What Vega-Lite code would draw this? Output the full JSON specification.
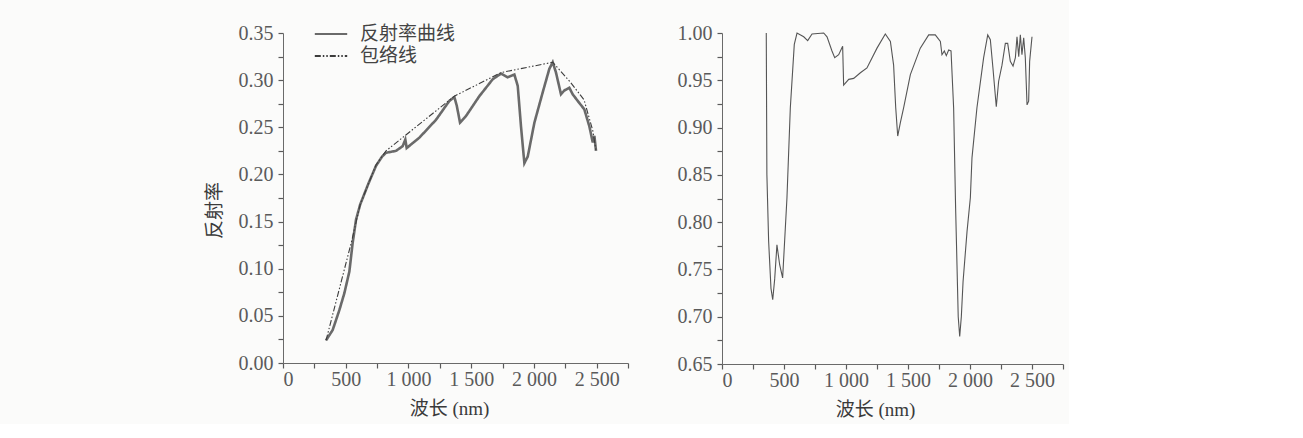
{
  "$schema": "https://vega.github.io/schema/vega-lite/v6.json",
  "background": "#fbfbfa",
  "padding": {"left": 205, "top": 23, "right": 5, "bottom": 5},
  "config": {
    "view": {"stroke": null},
    "font": "Liberation Serif, Noto Sans CJK SC",
    "axis": {
      "grid": false,
      "ticks": true,
      "domainColor": "#6a6a6a",
      "tickColor": "#5a5a5a",
      "tickSize": 5,
      "tickWidth": 1.2,
      "labelFont": "Liberation Serif",
      "labelFontSize": 20,
      "labelColor": "#5a5a5a",
      "titleFont": "Liberation Serif, Noto Sans CJK SC",
      "titleFontSize": 19,
      "titleColor": "#3a3a3a",
      "titleFontWeight": "normal"
    },
    "concat": {"spacing": 48}
  },
  "datasets": {
    "refl": [
      {"wl": 343, "r": 0.024, "s": "反射率曲线"},
      {"wl": 396, "r": 0.035, "s": "反射率曲线"},
      {"wl": 449, "r": 0.056, "s": "反射率曲线"},
      {"wl": 489, "r": 0.074, "s": "反射率曲线"},
      {"wl": 529, "r": 0.097, "s": "反射率曲线"},
      {"wl": 555, "r": 0.127, "s": "反射率曲线"},
      {"wl": 582, "r": 0.152, "s": "反射率曲线"},
      {"wl": 615, "r": 0.168, "s": "反射率曲线"},
      {"wl": 680, "r": 0.190, "s": "反射率曲线"},
      {"wl": 741, "r": 0.209, "s": "反射率曲线"},
      {"wl": 790, "r": 0.219, "s": "反射率曲线"},
      {"wl": 821, "r": 0.223, "s": "反射率曲线"},
      {"wl": 901, "r": 0.225, "s": "反射率曲线"},
      {"wl": 954, "r": 0.230, "s": "反射率曲线"},
      {"wl": 975, "r": 0.237, "s": "反射率曲线"},
      {"wl": 986, "r": 0.228, "s": "反射率曲线"},
      {"wl": 1087, "r": 0.239, "s": "反射率曲线"},
      {"wl": 1220, "r": 0.258, "s": "反射率曲线"},
      {"wl": 1326, "r": 0.278, "s": "反射率曲线"},
      {"wl": 1366, "r": 0.282, "s": "反射率曲线"},
      {"wl": 1385, "r": 0.273, "s": "反射率曲线"},
      {"wl": 1411, "r": 0.255, "s": "反射率曲线"},
      {"wl": 1459, "r": 0.262, "s": "反射率曲线"},
      {"wl": 1565, "r": 0.283, "s": "反射率曲线"},
      {"wl": 1672, "r": 0.301, "s": "反射率曲线"},
      {"wl": 1738, "r": 0.307, "s": "反射率曲线"},
      {"wl": 1764, "r": 0.305, "s": "反射率曲线"},
      {"wl": 1791, "r": 0.303, "s": "反射率曲线"},
      {"wl": 1844, "r": 0.306, "s": "反射率曲线"},
      {"wl": 1871, "r": 0.294, "s": "反射率曲线"},
      {"wl": 1897, "r": 0.251, "s": "反射率曲线"},
      {"wl": 1924, "r": 0.212, "s": "反射率曲线"},
      {"wl": 1951, "r": 0.219, "s": "反射率曲线"},
      {"wl": 2004, "r": 0.255, "s": "反射率曲线"},
      {"wl": 2070, "r": 0.287, "s": "反射率曲线"},
      {"wl": 2123, "r": 0.312, "s": "反射率曲线"},
      {"wl": 2150, "r": 0.319, "s": "反射率曲线"},
      {"wl": 2176, "r": 0.308, "s": "反射率曲线"},
      {"wl": 2216, "r": 0.285, "s": "反射率曲线"},
      {"wl": 2242, "r": 0.289, "s": "反射率曲线"},
      {"wl": 2282, "r": 0.292, "s": "反射率曲线"},
      {"wl": 2309, "r": 0.285, "s": "反射率曲线"},
      {"wl": 2349, "r": 0.278, "s": "反射率曲线"},
      {"wl": 2402, "r": 0.269, "s": "反射率曲线"},
      {"wl": 2442, "r": 0.251, "s": "反射率曲线"},
      {"wl": 2469, "r": 0.234, "s": "反射率曲线"},
      {"wl": 2482, "r": 0.241, "s": "反射率曲线"},
      {"wl": 2495, "r": 0.225, "s": "反射率曲线"}
    ],
    "env": [
      {"wl": 343, "r": 0.024, "s": "包络线"},
      {"wl": 545, "r": 0.128, "s": "包络线"},
      {"wl": 615, "r": 0.168, "s": "包络线"},
      {"wl": 741, "r": 0.210, "s": "包络线"},
      {"wl": 821, "r": 0.225, "s": "包络线"},
      {"wl": 1366, "r": 0.283, "s": "包络线"},
      {"wl": 1738, "r": 0.308, "s": "包络线"},
      {"wl": 2150, "r": 0.319, "s": "包络线"},
      {"wl": 2290, "r": 0.298, "s": "包络线"},
      {"wl": 2400, "r": 0.279, "s": "包络线"},
      {"wl": 2470, "r": 0.246, "s": "包络线"},
      {"wl": 2495, "r": 0.225, "s": "包络线"}
    ],
    "cr": [
      {"wl": 357, "v": 1.0},
      {"wl": 362, "v": 0.85},
      {"wl": 376, "v": 0.78},
      {"wl": 395, "v": 0.73},
      {"wl": 409, "v": 0.718},
      {"wl": 425, "v": 0.74},
      {"wl": 443, "v": 0.776},
      {"wl": 465, "v": 0.755},
      {"wl": 489, "v": 0.741},
      {"wl": 524, "v": 0.826},
      {"wl": 551, "v": 0.921},
      {"wl": 583, "v": 0.988},
      {"wl": 605, "v": 1.0},
      {"wl": 659, "v": 0.996},
      {"wl": 691, "v": 0.992},
      {"wl": 726, "v": 0.999},
      {"wl": 820, "v": 1.0},
      {"wl": 847, "v": 0.996},
      {"wl": 887, "v": 0.981},
      {"wl": 909, "v": 0.974},
      {"wl": 941, "v": 0.977},
      {"wl": 973, "v": 0.986},
      {"wl": 981, "v": 0.945},
      {"wl": 1022, "v": 0.951},
      {"wl": 1062, "v": 0.952},
      {"wl": 1116, "v": 0.958},
      {"wl": 1169, "v": 0.963},
      {"wl": 1250, "v": 0.984},
      {"wl": 1317, "v": 0.999},
      {"wl": 1358, "v": 0.991},
      {"wl": 1384, "v": 0.966},
      {"wl": 1401, "v": 0.921},
      {"wl": 1417, "v": 0.891},
      {"wl": 1438, "v": 0.905},
      {"wl": 1465, "v": 0.921},
      {"wl": 1519, "v": 0.956},
      {"wl": 1599, "v": 0.984},
      {"wl": 1667, "v": 0.998},
      {"wl": 1720, "v": 0.998},
      {"wl": 1761, "v": 0.991},
      {"wl": 1774, "v": 0.977},
      {"wl": 1793, "v": 0.981},
      {"wl": 1809, "v": 0.976},
      {"wl": 1828, "v": 0.982},
      {"wl": 1847, "v": 0.981},
      {"wl": 1868, "v": 0.921},
      {"wl": 1884, "v": 0.815},
      {"wl": 1895, "v": 0.755},
      {"wl": 1905, "v": 0.70},
      {"wl": 1917, "v": 0.679},
      {"wl": 1930, "v": 0.70},
      {"wl": 1944, "v": 0.737},
      {"wl": 1976, "v": 0.79},
      {"wl": 2003, "v": 0.826},
      {"wl": 2016, "v": 0.868},
      {"wl": 2056, "v": 0.921},
      {"wl": 2110, "v": 0.974},
      {"wl": 2143, "v": 0.998},
      {"wl": 2164, "v": 0.993},
      {"wl": 2185, "v": 0.963},
      {"wl": 2212, "v": 0.922},
      {"wl": 2231, "v": 0.949},
      {"wl": 2258, "v": 0.966},
      {"wl": 2285, "v": 0.989},
      {"wl": 2304, "v": 0.989},
      {"wl": 2325, "v": 0.97},
      {"wl": 2347, "v": 0.965},
      {"wl": 2366, "v": 0.974},
      {"wl": 2379, "v": 0.996},
      {"wl": 2393, "v": 0.975},
      {"wl": 2406, "v": 0.998},
      {"wl": 2419, "v": 0.977},
      {"wl": 2433, "v": 0.995},
      {"wl": 2446, "v": 0.974},
      {"wl": 2460, "v": 0.924},
      {"wl": 2473, "v": 0.928},
      {"wl": 2481, "v": 0.97},
      {"wl": 2500, "v": 0.996}
    ]
  },
  "hconcat": [
    {
      "width": 345,
      "height": 330,
      "encoding": {
        "x": {
          "field": "wl", "type": "quantitative",
          "scale": {"domain": [0, 2750], "nice": false, "zero": false},
          "axis": {
            "title": "波长 (nm)",
            "titleX": 166,
            "values": [0, 250, 500, 750, 1000, 1250, 1500, 1750, 2000, 2250, 2500, 2750],
            "labelExpr": "datum.value % 500 == 0 && datum.value < 2750 ? replace(format(datum.value, ','), ',', ' ') : ''",
            "labelPadding": 1,
            "titlePadding": 10,
            "encode": {"ticks": {"update": {"y2": {"value": -5}}}}
          }
        },
        "y": {
          "field": "r", "type": "quantitative",
          "scale": {"domain": [0, 0.35], "nice": false, "zero": false},
          "axis": {
            "title": "反射率",
            "titleY": 177,
            "values": [0, 0.025, 0.05, 0.075, 0.1, 0.125, 0.15, 0.175, 0.2, 0.225, 0.25, 0.275, 0.3, 0.325, 0.35],
            "labelExpr": "round(datum.value * 1000) % 50 == 0 ? format(datum.value, '.2f') : ''",
            "labelPadding": 5,
            "titlePadding": 14,
            "encode": {"ticks": {"update": {"x2": {"value": 5}}}}
          }
        },
        "color": {
          "field": "s", "type": "nominal",
          "scale": {"domain": ["反射率曲线", "包络线"], "range": ["#6a6a6a", "#3c3c3c"]},
          "legend": {
            "title": null,
            "orient": "none",
            "legendX": 38,
            "legendY": -9,
            "symbolType": "M-1.8,0L1.8,0",
            "symbolSize": 324,
            "symbolStrokeWidth": 2,
            "labelFont": "Noto Sans CJK SC",
            "labelFontSize": 19,
            "labelColor": "#444444",
            "labelOffset": 19,
            "rowPadding": 2
          }
        },
        "strokeDash": {
          "field": "s", "type": "nominal",
          "scale": {"domain": ["反射率曲线", "包络线"], "range": [[1, 0], [6, 2, 1.5, 2, 1.5, 2]]}
        }
      },
      "layer": [
        {"data": {"name": "refl"}, "mark": {"type": "line", "strokeWidth": 2.6}},
        {"data": {"name": "env"}, "mark": {"type": "line", "strokeWidth": 1.1}}
      ]
    },
    {
      "width": 341,
      "height": 331,
      "data": {"name": "cr"},
      "mark": {"type": "line", "color": "#555555", "strokeWidth": 1.1},
      "encoding": {
        "x": {
          "field": "wl", "type": "quantitative",
          "scale": {"domain": [0, 2750], "nice": false, "zero": false},
          "axis": {
            "title": "波长 (nm)",
            "titleX": 153,
            "values": [0, 250, 500, 750, 1000, 1250, 1500, 1750, 2000, 2250, 2500, 2750],
            "labelExpr": "datum.value % 500 == 0 && datum.value < 2750 ? replace(format(datum.value, ','), ',', ' ') : ''",
            "labelPadding": 1,
            "titlePadding": 10,
            "encode": {"ticks": {"update": {"y2": {"value": -5}}}}
          }
        },
        "y": {
          "field": "v", "type": "quantitative",
          "scale": {"domain": [0.65, 1.0], "nice": false, "zero": false},
          "axis": {
            "title": null,
            "values": [0.65, 0.675, 0.7, 0.725, 0.75, 0.775, 0.8, 0.825, 0.85, 0.875, 0.9, 0.925, 0.95, 0.975, 1.0],
            "labelExpr": "round(datum.value * 1000) % 50 == 0 ? format(datum.value, '.2f') : ''",
            "labelPadding": 5,
            "encode": {"ticks": {"update": {"x2": {"value": 5}}}}
          }
        }
      }
    }
  ]
}
